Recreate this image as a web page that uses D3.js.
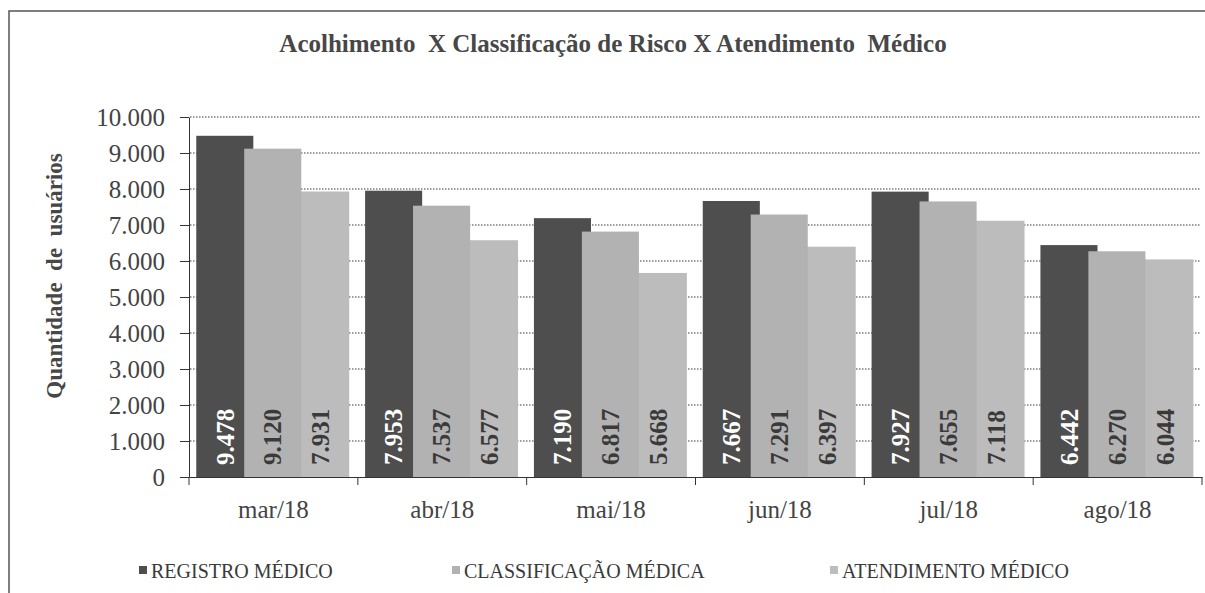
<!DOCTYPE html>
<html>
<head>
<meta charset="utf-8">
<script src="https://cdn.jsdelivr.net/npm/d3@7"></script>
<style>
  body { margin: 0; background: #fff; }
  text { font-family: "Liberation Serif", "DejaVu Serif", serif; }
</style>
</head>
<body>
<svg id="chart" width="1205" height="593"></svg>
<script>
const categories = ['mar/18', 'abr/18', 'mai/18', 'jun/18', 'jul/18', 'ago/18'];
const seriesNames = ['REGISTRO MÉDICO', 'CLASSIFICAÇÃO MÉDICA', 'ATENDIMENTO MÉDICO'];
const registro = [9478, 7953, 7190, 7667, 7927, 6442];
const classificacao = [9120, 7537, 6817, 7291, 7655, 6270];
const atendimento = [7931, 6577, 5668, 6397, 7118, 6044];
const yTicks = [0, 1000, 2000, 3000, 4000, 5000, 6000, 7000, 8000, 9000, 10000];

const series = [registro, classificacao, atendimento];
const colors = ['#4e4e4e', '#b2b2b2', '#bcbcbc'];
const labelColors = ['#ffffff', '#3a3a3a', '#3a3a3a'];
const serif = 'Liberation Serif, DejaVu Serif, serif';

const svg = d3.select('#chart')
    .attr('font-family', serif);

const ptBR = d3.formatLocale({ decimal: ',', thousands: '.', grouping: [3], currency: ['R$', ''] });
const fmt = ptBR.format(',d');

const x = d3.scaleBand()
    .domain(categories)
    .range([189, 1202]);

const y = d3.scaleLinear()
    .domain([0, 10000])
    .range([477, 117]);

const bw = x.bandwidth();
const barW = bw * 0.338;   // largura de cada barra
const step = bw * 0.284;   // barras se sobrepõem um pouco
const pad = bw * 0.043;

// moldura (só topo e esquerda aparecem na imagem)
svg.append('path')
    .attr('d', 'M9,593 L9,11 L1205,11')
    .attr('fill', 'none')
    .attr('stroke', '#555')
    .attr('stroke-width', 1.5);

// título
svg.append('text')
    .attr('x', 613)
    .attr('y', 52)
    .attr('text-anchor', 'middle')
    .attr('font-family', serif)
    .attr('font-size', 25)
    .attr('font-weight', 'bold')
    .attr('fill', '#474747')
    .style('white-space', 'pre')
    .text('Acolhimento  X Classificação de Risco X Atendimento  Médico');

// linhas de grade pontilhadas
svg.append('g')
    .selectAll('line')
    .data(yTicks.filter(d => d > 0))
    .enter()
    .append('line')
    .attr('x1', 190)
    .attr('x2', 1200)
    .attr('y1', d => y(d))
    .attr('y2', d => y(d))
    .attr('stroke', '#3c3c3c')
    .attr('stroke-width', 1)
    .attr('stroke-dasharray', '1.5,1.5');

// barras: ordem de desenho 0, 2, 1 (a do meio fica por cima)
const drawOrder = [0, 2, 1];
drawOrder.forEach(function (s) {
    svg.append('g')
        .selectAll('rect')
        .data(series[s])
        .enter()
        .append('rect')
        .attr('x', (d, i) => x(categories[i]) + pad + s * step)
        .attr('y', d => y(d))
        .attr('width', barW)
        .attr('height', d => y(0) - y(d))
        .attr('fill', colors[s]);
});

// rótulos de valor (verticais)
series.forEach(function (vals, s) {
    svg.append('g')
        .selectAll('text')
        .data(vals)
        .enter()
        .append('text')
        .attr('transform', (d, i) => {
            const cx = x(categories[i]) + pad + s * step + barW / 2;
            return 'translate(' + cx + ',' + 465 + ') rotate(-90)';
        })
        .attr('dy', '0.35em')
        .attr('font-family', serif)
        .attr('font-size', 25)
        .attr('font-weight', 'bold')
        .attr('fill', labelColors[s])
        .text(d => fmt(d));
});

// eixo Y
const yAxis = d3.axisLeft(y)
    .tickValues(yTicks)
    .tickFormat(fmt)
    .tickSizeInner(9)
    .tickSizeOuter(0)
    .tickPadding(15);

const gy = svg.append('g')
    .attr('transform', 'translate(189,0)')
    .call(yAxis)
    .attr('font-family', serif);
gy.selectAll('text').attr('font-size', 25).attr('fill', '#444');
gy.selectAll('line').attr('stroke', '#333');
gy.select('.domain').attr('stroke', '#333');

// eixo X
const xAxis = d3.axisBottom(x)
    .tickSizeInner(0)
    .tickSizeOuter(0)
    .tickPadding(23);

const gx = svg.append('g')
    .attr('transform', 'translate(0,477)')
    .call(xAxis)
    .attr('font-family', serif);
gx.selectAll('text').attr('font-size', 25).attr('fill', '#444');
gx.select('.domain').attr('stroke', '#333');

// marcas entre categorias
svg.append('g')
    .selectAll('line')
    .data(categories.map(c => x(c)).concat([x.range()[1]]))
    .enter()
    .append('line')
    .attr('x1', d => d)
    .attr('x2', d => d)
    .attr('y1', 477)
    .attr('y2', 485)
    .attr('stroke', '#333');

// título do eixo Y
svg.append('text')
    .attr('transform', 'translate(62,276) rotate(-90)')
    .attr('text-anchor', 'middle')
    .attr('font-family', serif)
    .attr('font-size', 23)
    .attr('font-weight', 'bold')
    .attr('fill', '#474747')
    .style('white-space', 'pre')
    .text('Quantidade  de  usuários');

// legenda
const legendX = [139, 452, 830];
const legend = svg.append('g')
    .selectAll('g')
    .data(seriesNames)
    .enter()
    .append('g')
    .attr('transform', (d, i) => 'translate(' + legendX[i] + ',578)');

legend.append('rect')
    .attr('x', 0)
    .attr('y', -12)
    .attr('width', 8)
    .attr('height', 8)
    .attr('fill', (d, i) => colors[i]);

legend.append('text')
    .attr('x', 12)
    .attr('y', 0)
    .attr('font-family', serif)
    .attr('font-size', 20)
    .attr('fill', '#3a3a3a')
    .text(d => d);
</script>
</body>
</html>
